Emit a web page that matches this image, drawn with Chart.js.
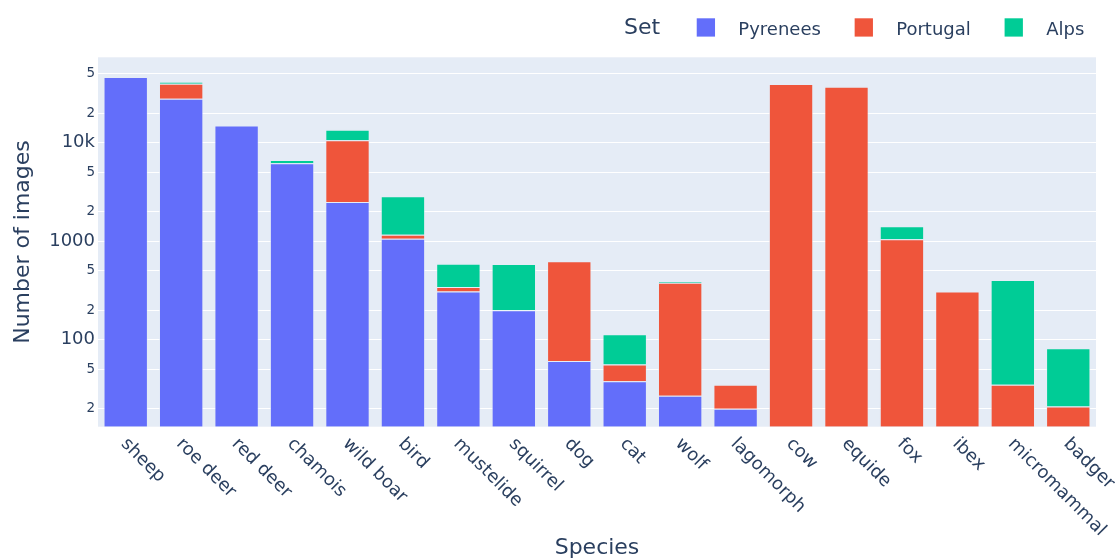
<!DOCTYPE html>
<html>
<head>
<meta charset="utf-8">
<script src="https://cdn.jsdelivr.net/npm/chart.js@4.4.1/dist/chart.umd.min.js"></script>
<style>html,body{margin:0;padding:0;background:#fff}</style>
</head>
<body>
<canvas id="c" width="1116" height="560"></canvas>
<script>
// Image counts per species, split by camera-trap set
const categories = ['sheep', 'roe deer', 'red deer', 'chamois', 'wild boar', 'bird', 'mustelide', 'squirrel', 'dog', 'cat', 'wolf', 'lagomorph', 'cow', 'equide', 'fox', 'ibex', 'micromammal', 'badger'];
const pyrenees = [46500, 28000, 15000, 6200, 2500, 1060, 310, 200, 61, 38, 27, 20, null, null, null, null, null, null];
const portugal = [null, 11800, null, null, 8100, 105, 33, null, 565, 18, 353, 15, 39500, 37000, 1050, 310, 35, 21];
const alps = [null, 1600, null, 490, 3000, 1700, 250, 390, null, 58, 13, null, null, null, 370, null, 370, 61];
const seriesNames = ['Pyrenees', 'Portugal', 'Alps'];
const seriesColors = ['#636efa', '#EF553B', '#00cc96'];
const yTickValues = [20, 50, 100, 200, 500, 1000, 2000, 5000, 10000, 20000, 50000];
const yTickLabels = ['2', '5', '100', '2', '5', '1000', '2', '5', '10k', '2', '5'];
const legendTitle = 'Set';
const xTitle = 'Species';
const yTitle = 'Number of images';

const FONT = 'DejaVu Sans';
const INK = '#2a3f5f';
const decadeTicks = new Set([100, 1000, 10000]);

// light blue-grey plotting area
const plotBackground = {
  id: 'plotBackground',
  beforeDraw(chart) {
    const {ctx, chartArea: a} = chart;
    ctx.save();
    ctx.fillStyle = '#E5ECF6';
    ctx.fillRect(a.left, a.top, a.right - a.left, a.bottom - a.top);
    ctx.restore();
  }
};

// category names slanted downwards to the right, starting at each tick
const slantedLabels = {
  id: 'slantedLabels',
  afterDraw(chart) {
    const xs = chart.scales.x;
    const ctx = chart.ctx;
    ctx.save();
    ctx.font = `18px "${FONT}"`;
    ctx.fillStyle = INK;
    ctx.textAlign = 'left';
    ctx.textBaseline = 'middle';
    chart.data.labels.forEach((lab, i) => {
      const px = xs.getPixelForTick(i);
      ctx.save();
      ctx.translate(px - 2, xs.top + 14.5);
      ctx.rotate(Math.PI / 4);
      ctx.fillText(lab, 0, 0);
      ctx.restore();
    });
    ctx.restore();
  }
};

// horizontal legend with its title on the same row
const setLegend = {
  id: 'setLegend',
  afterDraw(chart) {
    const ctx = chart.ctx;
    ctx.save();
    ctx.textAlign = 'left';
    ctx.textBaseline = 'alphabetic';
    ctx.fillStyle = INK;
    ctx.font = `22px "${FONT}"`;
    let x = 624;
    ctx.fillText(legendTitle, x, 34.3);
    x += ctx.measureText(legendTitle).width + 36.6;
    ctx.font = `18px "${FONT}"`;
    chart.data.datasets.forEach(ds => {
      ctx.fillStyle = ds.backgroundColor;
      ctx.fillRect(x, 18.3, 18.3, 18.3);
      ctx.fillStyle = INK;
      ctx.fillText(ds.label, x + 41.6, 35);
      x += 41.6 + ctx.measureText(ds.label).width + 33.8;
    });
    ctx.restore();
  }
};

new Chart(document.getElementById('c'), {
  type: 'bar',
  data: {
    labels: categories,
    datasets: [pyrenees, portugal, alps].map((d, i) => ({
      label: seriesNames[i],
      data: d,
      backgroundColor: seriesColors[i],
      borderColor: 'rgba(229,236,246,0.55)',
      borderWidth: 1,
      categoryPercentage: 1,
      barPercentage: 0.8
    }))
  },
  options: {
    responsive: false,
    animation: false,
    devicePixelRatio: 1,
    layout: {padding: {top: 57.3, right: 20, bottom: 0, left: 0}},
    plugins: {legend: {display: false}, tooltip: {enabled: false}},
    scales: {
      x: {
        stacked: true,
        grid: {display: false},
        border: {display: false},
        ticks: {display: false},
        title: {display: true, text: xTitle, color: INK, font: {family: FONT, size: 22}, padding: {top: 0, bottom: -1}},
        afterFit(s) { s.height = 133.3; }
      },
      y: {
        type: 'logarithmic',
        stacked: true,
        min: 13.12,
        max: 73800,
        bounds: 'data',
        grid: {color: '#ffffff', lineWidth: 1, drawTicks: false},
        border: {display: false},
        afterBuildTicks(s) { s.ticks = yTickValues.map(v => ({value: v})); },
        ticks: {
          color: INK,
          padding: 3,
          autoSkip: false,
          callback: (v, i) => yTickLabels[i],
          font: (c) => ({family: FONT, size: (c.tick && decadeTicks.has(c.tick.value)) ? 18 : 13.5})
        },
        title: {display: true, text: yTitle, color: INK, font: {family: FONT, size: 22}, padding: {top: 10.5, bottom: 0}},
        afterFit(s) { s.width = 98; }
      }
    }
  },
  plugins: [plotBackground, slantedLabels, setLegend]
});
</script>
</body>
</html>
